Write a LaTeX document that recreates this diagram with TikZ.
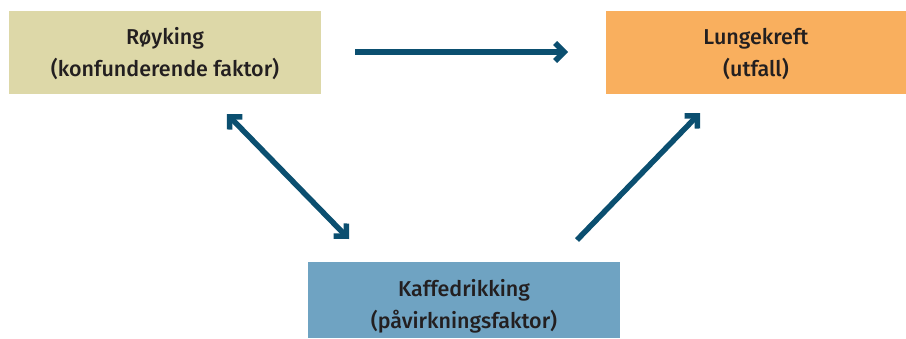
\documentclass[tikz,border=0pt]{standalone}
\usepackage{fontspec}
\setmainfont{Fira Sans}[UprightFont={* Medium}]
\usetikzlibrary{arrows.meta}
\definecolor{khaki}{HTML}{DDD8A8}
\definecolor{orng}{HTML}{F9AF5E}
\definecolor{sky}{HTML}{6FA3C2}
\definecolor{arr}{HTML}{0B4F70}
\definecolor{txt}{HTML}{231F20}
\begin{document}
\begin{tikzpicture}[x=1pt,y=-1pt,
  box/.style={draw=none,rectangle,inner sep=0pt,text=txt,align=center,
    font=\fontsize{21.5}{32}\selectfont},
  conn/.style={draw=arr,line width=5.5pt,-{Straight Barb[length=9pt,width=18pt]}},
  dconn/.style={draw=arr,line width=5.5pt,{Straight Barb[length=9pt,width=18pt]}-{Straight Barb[length=9pt,width=18pt]}}]
\useasboundingbox (0,0) rectangle (906,338);
\fill[khaki] (9,11) rectangle (321,94);
\fill[orng] (606,11) rectangle (906,94);
\fill[sky] (308,262) rectangle (620,338);
\node[box] (r) at (165,54) {Røyking\\(konfunderende faktor)};
\node[box] (l) at (756,54) {Lungekreft\\(utfall)};
\node[box] (k) at (464,306) {Kaffedrikking\\(påvirkningsfaktor)};
\coordinate (h1) at (355,52);
\coordinate (h2) at (568,52);
\coordinate (d1) at (227,114);
\coordinate (d2) at (349,239);
\coordinate (e1) at (577,240);
\coordinate (e2) at (700,113);
\draw[conn] (h1) -- (h2);
\draw[dconn] (d1) -- (d2);
\draw[conn] (e1) -- (e2);
\end{tikzpicture}
\end{document}
